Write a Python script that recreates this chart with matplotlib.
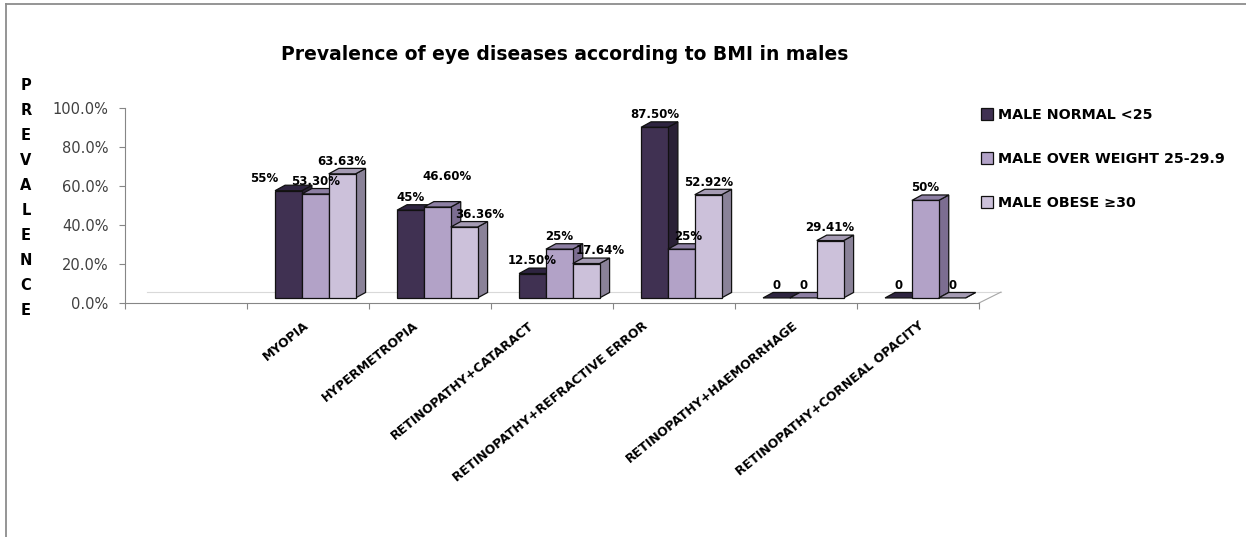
import matplotlib
matplotlib.use('Agg')
import matplotlib.pyplot as plt
from matplotlib.patches import Polygon, Patch
from matplotlib.lines import Line2D
from matplotlib.ticker import PercentFormatter, FixedLocator
import matplotlib.transforms as mtransforms

# Data (percent)
categories = ['MYOPIA', 'HYPERMETROPIA', 'RETINOPATHY+CATARACT', 'RETINOPATHY+REFRACTIVE ERROR',
              'RETINOPATHY+HAEMORRHAGE', 'RETINOPATHY+CORNEAL OPACITY']
series_names = ['MALE NORMAL <25', 'MALE OVER WEIGHT 25-29.9', 'MALE OBESE \u226530']
normal = [55, 45, 12.5, 87.5, 0, 0]
overweight = [53.3, 46.6, 25, 25, 0, 50]
obese = [63.63, 36.36, 17.64, 52.92, 29.41, 0]
normal_labels = ['55%', '45%', '12.50%', '87.50%', '0', '0']
overweight_labels = ['53.30%', '46.60%', '25%', '25%', '0', '50%']
obese_labels = ['63.63%', '36.36%', '17.64%', '52.92%', '29.41%', '0']

series = [normal, overweight, obese]
series_labels = [normal_labels, overweight_labels, obese_labels]

# Colours: front, side, top
front_cols = ['#403152', '#B2A2C7', '#CCC1DA']
side_cols = ['#2A2036', '#7C6D91', '#8A8298']
top_cols = ['#2E2440', '#8D7FA3', '#A59BB3']

W, H = 1246, 537
fig = plt.figure(figsize=(W / 100, H / 100), dpi=100)
ax = fig.add_axes([125 / W, 1 - 303 / H, (979 - 125) / W, 195 / H])
ax.set_xlim(0, 7)
ax.set_ylim(0, 100)

# 3D look: bars sit a bit back on the floor
base = 2.6        # front base of bars above axis line (in %)
shift = 0.06      # x shift of bars towards back
bw = 0.22         # bar width
ddx = 0.082       # depth of bars in x
ddy = 2.8         # depth of bars in y

# floor
floor_dx, floor_dy = 0.18, 5.6
ax.plot([floor_dx, 7 + floor_dx], [floor_dy, floor_dy], color='#D9D9D9', lw=0.8, clip_on=False, zorder=1)
ax.plot([7, 7 + floor_dx], [0, floor_dy], color='#A6A6A6', lw=0.8, clip_on=False, zorder=1)

# label nudges (x in slot units, y in %) for labels Excel moved
nudge = {(0, 0): (-0.2, 0), (1, 1): (0.08, 9), (1, 2): (0.13, 0),
         (2, 2): (0.115, 0), (3, 1): (0.06, 0)}

for i in range(len(categories)):
    gc = i + 1.5 + shift
    for s in range(3):
        v = series[s][i]
        x0 = gc + (s - 1) * bw - bw / 2
        # side and top faces
        side = Polygon([(x0 + bw, base), (x0 + bw + ddx, base + ddy),
                        (x0 + bw + ddx, base + v + ddy), (x0 + bw, base + v)],
                       closed=True, facecolor=side_cols[s], edgecolor='#111111', lw=0.9,
                       clip_on=False, zorder=3 + s)
        top = Polygon([(x0, base + v), (x0 + ddx, base + v + ddy),
                       (x0 + bw + ddx, base + v + ddy), (x0 + bw, base + v)],
                      closed=True, facecolor=top_cols[s], edgecolor='#111111', lw=0.9,
                      clip_on=False, zorder=3 + s)
        ax.add_patch(side)
        ax.add_patch(top)
        if v > 0:
            ax.bar(x0, v, width=bw, bottom=base, align='edge', color=front_cols[s],
                   edgecolor='#111111', linewidth=0.9, zorder=3 + s, clip_on=False)
        nx, ny = nudge.get((i, s), (0, 0))
        ax.text(x0 + bw / 2 + nx, base + v + 6.5 + ny, series_labels[s][i],
                ha='center', va='center', fontsize=8.5, fontweight='bold', color='black', zorder=10)

# axes styling
for sp in ['top', 'right']:
    ax.spines[sp].set_visible(False)
ax.spines['left'].set_color('#868686')
ax.spines['bottom'].set_color('#868686')
ax.yaxis.set_major_locator(FixedLocator([0, 20, 40, 60, 80, 100]))
ax.yaxis.set_major_formatter(PercentFormatter(decimals=1))
ax.tick_params(axis='y', colors='#868686', labelcolor='#404040', labelsize=10.5, length=4,
               direction='out', pad=8)
ax.set_xticks(range(0, 8))
ax.set_xticklabels([])
ax.tick_params(axis='x', colors='#868686', length=4, direction='out')

# category labels, rotated
label_shift_px = [-5, -17, -24, -32, -4, 0]
for i, cat in enumerate(categories):
    trans = ax.get_xaxis_transform() + mtransforms.ScaledTranslation(
        label_shift_px[i] / 100, -16 / 100, fig.dpi_scale_trans)
    ax.text(i + 1.5, 0, cat, transform=trans, rotation=39, rotation_mode='anchor',
            ha='right', va='top', fontsize=9, fontweight='bold', color='black')

# title and y label
fig.text(565 / W, 1 - 55 / H, 'Prevalence of eye diseases according to BMI in males',
         ha='center', va='center', fontsize=13.5, fontweight='bold')
fig.text(26 / W, 1 - 198 / H, '\n'.join('PREVALENCE'), ha='center', va='center',
         fontsize=10.5, fontweight='bold', linespacing=1.84, multialignment='center')

# legend
handles = [Patch(facecolor=front_cols[k], edgecolor='#111111', linewidth=0.9) for k in range(3)]
fig.legend(handles, series_names, loc='upper left', bbox_to_anchor=(981 / W, 1 - 108 / H),
           frameon=False, prop={'weight': 'bold', 'size': 10.3}, handlelength=0.85,
           handleheight=0.85, handletextpad=0.35, labelspacing=2.1, borderpad=0, borderaxespad=0)

# outer border (left and top only visible)
fig.add_artist(Line2D([5.5 / W, 5.5 / W], [0, 1 - 3.5 / H], transform=fig.transFigure,
                      color='#8C8C8C', lw=1.3))
fig.add_artist(Line2D([5.5 / W, 1], [1 - 3.5 / H, 1 - 3.5 / H], transform=fig.transFigure,
                      color='#8C8C8C', lw=1.3))

plt.savefig('out.png', dpi=100)
